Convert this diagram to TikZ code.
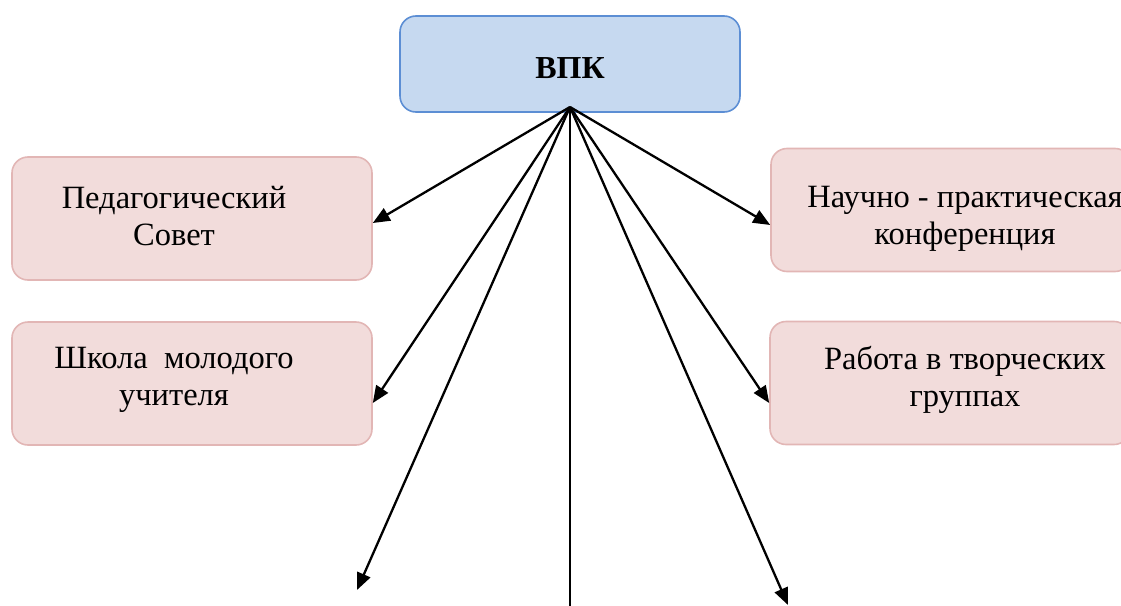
\documentclass[tikz,border=0pt]{standalone}
\usepackage{fontspec}
\setmainfont{Liberation Serif}
\usetikzlibrary{arrows.meta}
\definecolor{topfill}{RGB}{198,217,240}
\definecolor{topline}{RGB}{92,142,212}
\definecolor{boxfill}{RGB}{242,220,219}
\definecolor{boxline}{RGB}{226,182,181}
\tikzset{
  topbox/.style={draw=topline, fill=topfill, line width=1.6pt, rounded corners=16pt, minimum width=340pt, minimum height=96pt, inner sep=0pt},
  pinkbox/.style={draw=boxline, fill=boxfill, line width=1.6pt, rounded corners=16pt, minimum width=360pt, minimum height=123pt, inner sep=0pt},
  lbl/.style={align=center, anchor=base, inner sep=0pt, font=\fontsize{32.5}{37}\selectfont},
  link/.style={line width=2.3pt, -{Triangle[length=17pt,width=14pt]}}
}
\begin{document}
\begin{tikzpicture}[x=1pt,y=-1pt]
\useasboundingbox (0,0) rectangle (1121,605);
\clip (0,0) rectangle (1121,605);
\node[topbox] (vpk) at (570,64) {};
\node[lbl, font=\fontsize{32}{37}\selectfont\bfseries] (vpkt) at (570,78) {ВПК};
\node[pinkbox] (ps) at (192,218.5) {};
\node[lbl] (pst) at (174,245) {Педагогический\\Совет};
\node[pinkbox] (sm) at (192,383.5) {};
\node[lbl] (smt) at (174,405) {Школа\ \ молодого\\учителя};
\node[pinkbox] (nk) at (951,210) {};
\node[lbl] (nkt) at (965,244) {Научно - практическая\\конференция};
\node[pinkbox] (rt) at (950,383) {};
\node[lbl] (rtt) at (965,406) {Работа в творческих\\группах};
\coordinate (src) at (570,107);
\coordinate (bl) at (357,590);
\coordinate (bm) at (570,606);
\coordinate (br) at (788,605);
\draw[link] (src) -- ([yshift=-4.5pt]ps.east);
\draw[link] (src) -- ([yshift=-19.5pt]sm.east);
\draw[link] (src) -- (bl);
\draw[line width=2.3pt] (src) -- (bm);
\draw[link] (src) -- (br);
\draw[link] (src) -- ([yshift=-20pt]rt.west);
\draw[link] (src) -- ([yshift=-15pt]nk.west);
\end{tikzpicture}
\end{document}
